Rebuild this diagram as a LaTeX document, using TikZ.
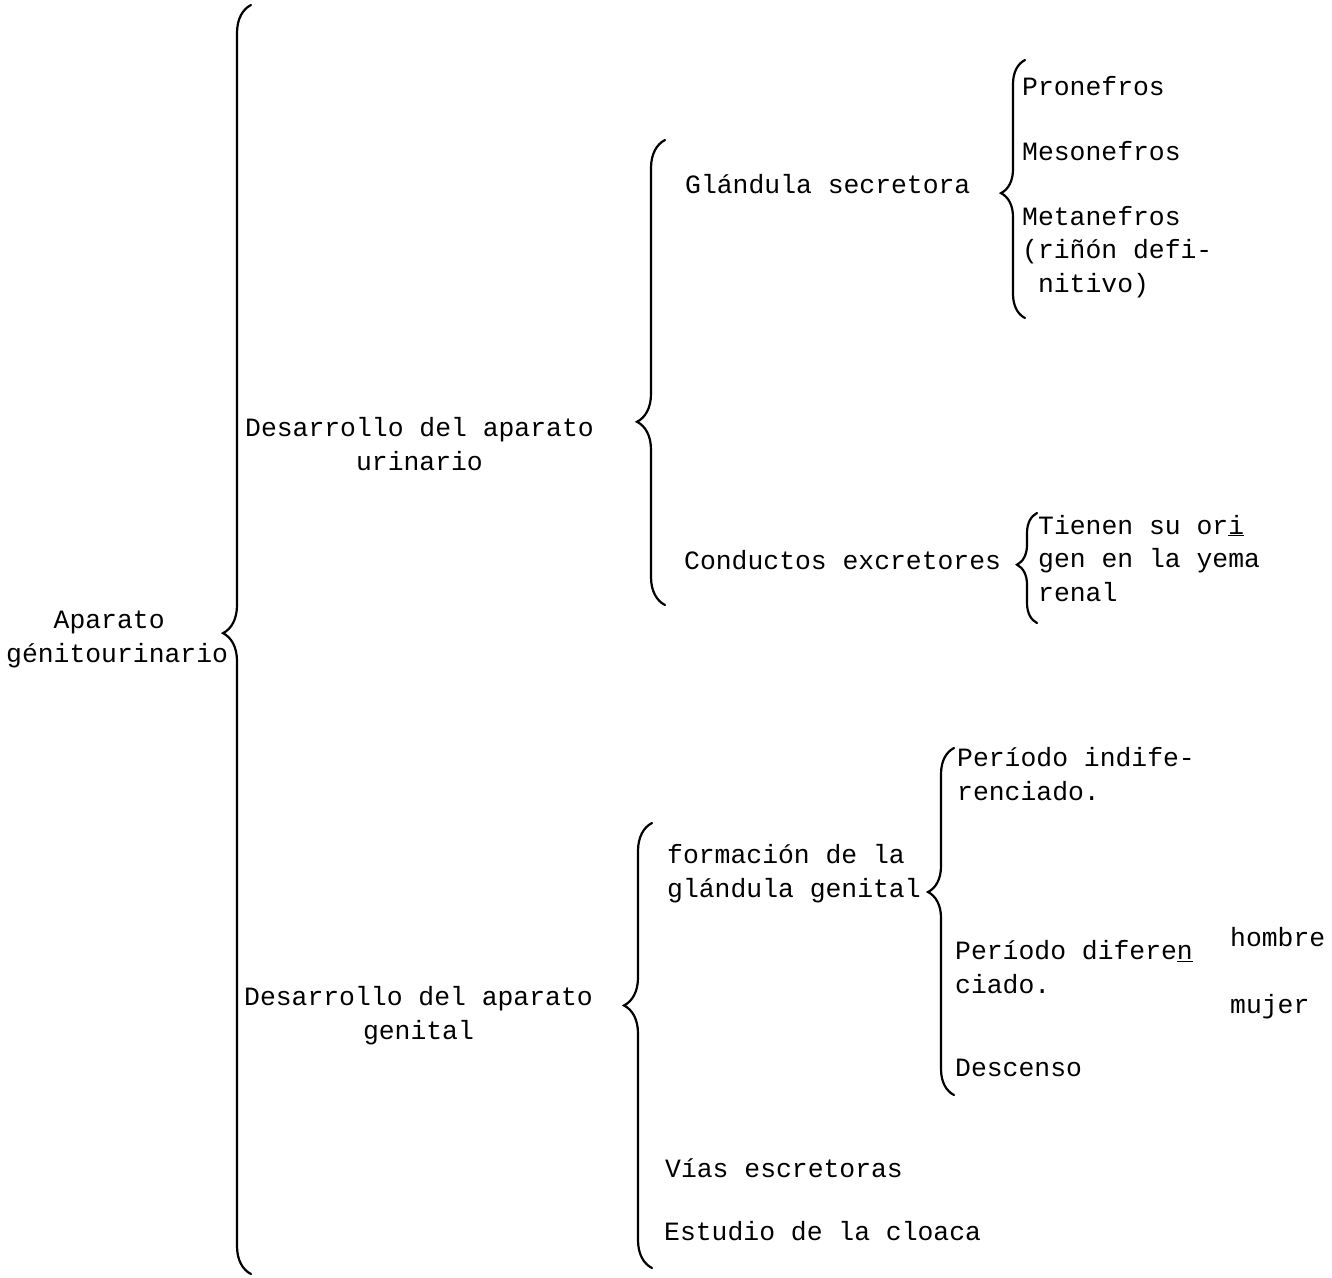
\documentclass[tikz,border=0pt]{standalone}
\usepackage{fontspec}
\setmonofont{Liberation Mono}
\usetikzlibrary{positioning, decorations.pathreplacing}
\newcommand{\typed}{\ttfamily\fontsize{26.4}{33.5}\selectfont}

\begin{document}
\begin{tikzpicture}[
    x=1pt, y=-1pt,
    txt/.style={anchor=base west, inner sep=0pt, align=left, font=\typed},
    curly/.style={decorate, decoration={brace, amplitude=#1}, line width=2.2pt, line cap=round}
]
\useasboundingbox (0,0) rectangle (1332,1277);

% Root (multi-line nodes sit on their last baseline)
\node[txt] (root) at (6,662) {\phantom{xxx}Aparato\\génitourinario};

% Urinary branch
\node[txt, align=center] (urin) at (245,470) {Desarrollo del aparato\\urinario};
\node[txt] (glan) at (685,193) {Glándula secretora};
\node[txt] (pro) at (1022,95) {Pronefros};
\node[txt] (meso) at (1022,160) {Mesonefros};
\node[txt] (meta) at (1022,292) {Metanefros\\(riñón defi-\\\phantom{x}nitivo)};
\node[txt] (cond) at (684,569) {Conductos excretores};
\node[txt] (yema) at (1038,601) {Tienen su or\underline{i}\\gen en la yema\\renal};

% Genital branch
\node[txt, align=center] (genit) at (244,1039) {Desarrollo del aparato\\genital};
\node[txt] (form) at (667,897) {formación de la\\glándula genital};
\node[txt] (indif) at (957,800) {Período indife-\\renciado.};
\node[txt] (difer) at (955,993) {Período difere\underline{n}\\ciado.};
\node[txt] (hom) at (1230,946) {hombre};
\node[txt] (muj) at (1230,1013) {mujer};
\node[txt] (desc) at (955,1076) {Descenso};
\node[txt] (vias) at (665,1177) {Vías escretoras};
\node[txt] (cloa) at (664,1240) {Estudio de la cloaca};

% Brace ends
\coordinate (aTop) at (251,5);    \coordinate (aBot) at (251,1274);
\coordinate (bTop) at (665,140);  \coordinate (bBot) at (665,605);
\coordinate (cTop) at (1025,60);  \coordinate (cBot) at (1025,318);
\coordinate (dTop) at (1037,513); \coordinate (dBot) at (1037,623);
\coordinate (eTop) at (652,823);  \coordinate (eBot) at (652,1268);
\coordinate (fTop) at (954,748);  \coordinate (fBot) at (954,1095);

% Braces
\draw[curly=28pt, decoration={aspect=0.505}] (aBot) -- (aTop);
\draw[curly=28pt, decoration={aspect=0.394}] (bBot) -- (bTop);
\draw[curly=24pt, decoration={aspect=0.484}] (cBot) -- (cTop);
\draw[curly=20pt, decoration={aspect=0.53}] (dBot) -- (dTop);
\draw[curly=28pt, decoration={aspect=0.59}] (eBot) -- (eTop);
\draw[curly=26pt, decoration={aspect=0.585}] (fBot) -- (fTop);

\end{tikzpicture}
\end{document}
